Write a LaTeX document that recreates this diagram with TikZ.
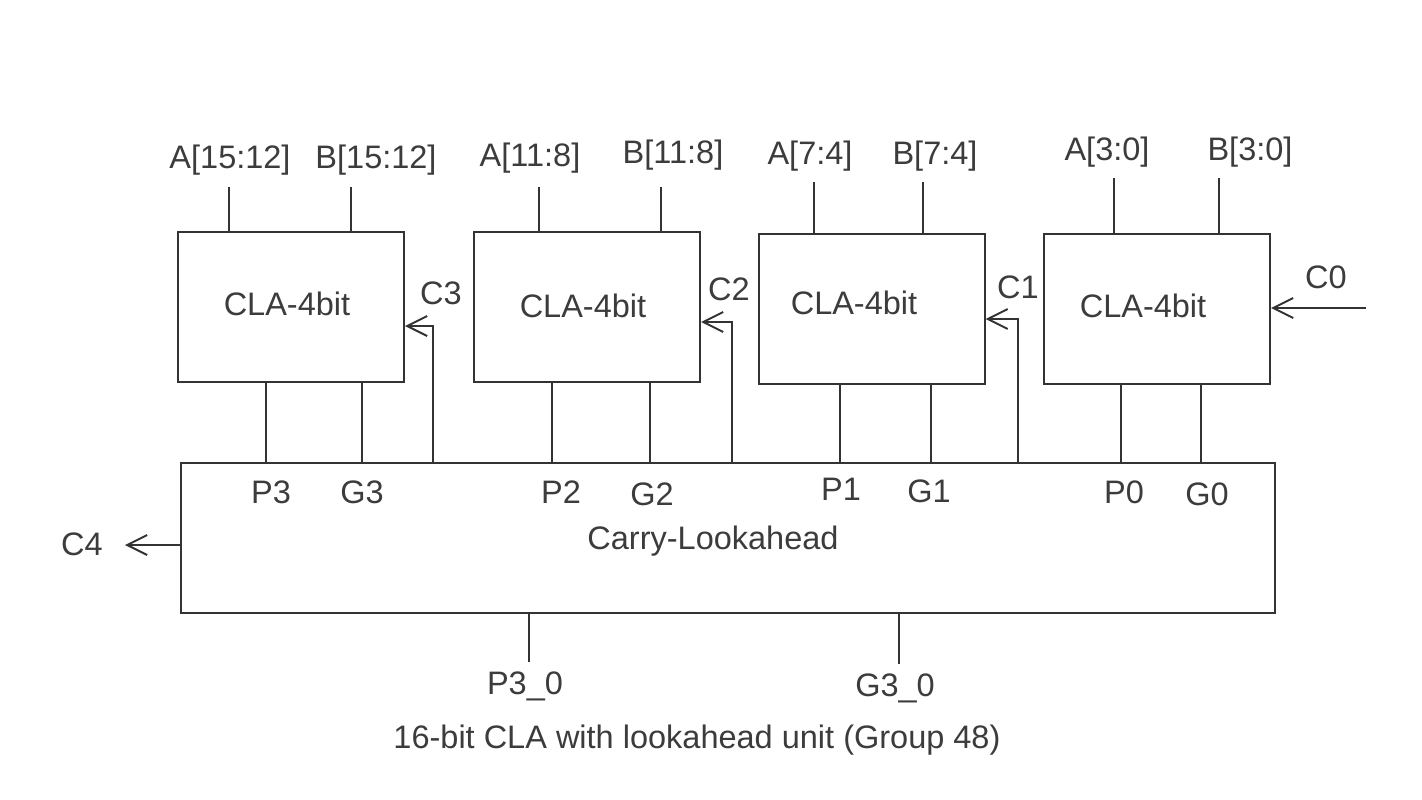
\documentclass[tikz,border=0pt]{standalone}
\usepackage{fontspec}
\setmainfont{Liberation Sans}
\usetikzlibrary{arrows.meta}
\definecolor{ink}{HTML}{333333}
\definecolor{txt}{HTML}{3C3C3C}
\begin{document}
\begin{tikzpicture}[x=1pt,y=-1pt,
  wire/.style={draw=ink,line width=2pt},
  arr/.style={wire,-{Straight Barb[length=20pt,width=20pt,line width=2pt]}},
  blk/.style={draw=ink,line width=2pt,minimum width=226pt,minimum height=150pt,inner sep=0pt},
  lbl/.style={text=txt,font=\fontsize{32.5}{38}\selectfont,inner sep=0pt,anchor=center},
]
\useasboundingbox[fill=white] (0,0) rectangle (1422,800);
% blocks
\node[blk] (b1) at (291,306.5) {};
\node[blk] (b2) at (587,307) {};
\node[blk] (b3) at (871.5,309) {};
\node[blk] (b4) at (1157,309) {};
\node[draw=ink,line width=2pt,minimum width=1094pt,minimum height=150pt,inner sep=0pt] (cl) at (728,538) {};
% block labels
\node[lbl] (t1) at (287,304) {CLA-4bit};
\node[lbl] (t2) at (583,306) {CLA-4bit};
\node[lbl] (t3) at (854,303) {CLA-4bit};
\node[lbl] (t4) at (1143,306) {CLA-4bit};
\node[lbl] (tcl) at (713,541) {Carry-Lookahead};
% input labels
\node[lbl] (a1) at (230,160) {A[15:12]};
\node[lbl] (bb1) at (376,160) {B[15:12]};
\node[lbl] (a2) at (530,158) {A[11:8]};
\node[lbl] (bb2) at (673,155) {B[11:8]};
\node[lbl] (a3) at (810,156) {A[7:4]};
\node[lbl] (bb3) at (935,156) {B[7:4]};
\node[lbl] (a4) at (1107,152) {A[3:0]};
\node[lbl] (bb4) at (1250,152) {B[3:0]};
% input wire tops
\coordinate (ia1) at (229,187); \coordinate (ib1) at (351,187);
\coordinate (ia2) at (539,187); \coordinate (ib2) at (661,187);
\coordinate (ia3) at (814,182); \coordinate (ib3) at (923,182);
\coordinate (ia4) at (1114,178); \coordinate (ib4) at (1219,178);
\draw[wire] (ia1) -- (ia1 |- b1.north);
\draw[wire] (ib1) -- (ib1 |- b1.north);
\draw[wire] (ia2) -- (ia2 |- b2.north);
\draw[wire] (ib2) -- (ib2 |- b2.north);
\draw[wire] (ia3) -- (ia3 |- b3.north);
\draw[wire] (ib3) -- (ib3 |- b3.north);
\draw[wire] (ia4) -- (ia4 |- b4.north);
\draw[wire] (ib4) -- (ib4 |- b4.north);
% P/G wires
\coordinate (p3) at (266,0); \coordinate (g3) at (362,0);
\coordinate (p2) at (552,0); \coordinate (g2) at (650,0);
\coordinate (p1) at (840,0); \coordinate (g1) at (931,0);
\coordinate (p0) at (1121,0); \coordinate (g0) at (1201,0);
\draw[wire] (p3 |- b1.south) -- (p3 |- cl.north);
\draw[wire] (g3 |- b1.south) -- (g3 |- cl.north);
\draw[wire] (p2 |- b2.south) -- (p2 |- cl.north);
\draw[wire] (g2 |- b2.south) -- (g2 |- cl.north);
\draw[wire] (p1 |- b3.south) -- (p1 |- cl.north);
\draw[wire] (g1 |- b3.south) -- (g1 |- cl.north);
\draw[wire] (p0 |- b4.south) -- (p0 |- cl.north);
\draw[wire] (g0 |- b4.south) -- (g0 |- cl.north);
\node[lbl] (lp3) at (271,492) {P3};
\node[lbl] (lg3) at (362,492) {G3};
\node[lbl] (lp2) at (561,492) {P2};
\node[lbl] (lg2) at (652,494) {G2};
\node[lbl] (lp1) at (841,489) {P1};
\node[lbl] (lg1) at (929,491) {G1};
\node[lbl] (lp0) at (1124,492) {P0};
\node[lbl] (lg0) at (1207,494) {G0};
% carries
\coordinate (c3x) at (433,326); \coordinate (c2x) at (732,322); \coordinate (c1x) at (1018,319);
\draw[arr] (c3x |- cl.north) -- (c3x) -- (c3x -| b1.east);
\draw[arr] (c2x |- cl.north) -- (c2x) -- (c2x -| b2.east);
\draw[arr] (c1x |- cl.north) -- (c1x) -- (c1x -| b3.east);
\node[lbl] (lc3) at (441,293) {C3};
\node[lbl] (lc2) at (729,289) {C2};
\node[lbl] (lc1) at (1018,287) {C1};
\coordinate (c0s) at (1366,308);
\draw[arr] (c0s) -- (c0s -| b4.east);
\node[lbl] (lc0) at (1326,277) {C0};
\coordinate (c4e) at (125,545);
\draw[arr] (c4e -| cl.west) -- (c4e);
\node[lbl] (lc4) at (82,544) {C4};
% outputs
\coordinate (po) at (529,662); \coordinate (go) at (899,664);
\draw[wire] (po |- cl.south) -- (po);
\draw[wire] (go |- cl.south) -- (go);
\node[lbl] (lpo) at (525,686) {P3\_0};
\node[lbl] (lgo) at (895,688) {G3\_0};
\node[lbl] (cap) at (697,740) {16-bit CLA with lookahead unit (Group 48)};
\end{tikzpicture}
\end{document}
